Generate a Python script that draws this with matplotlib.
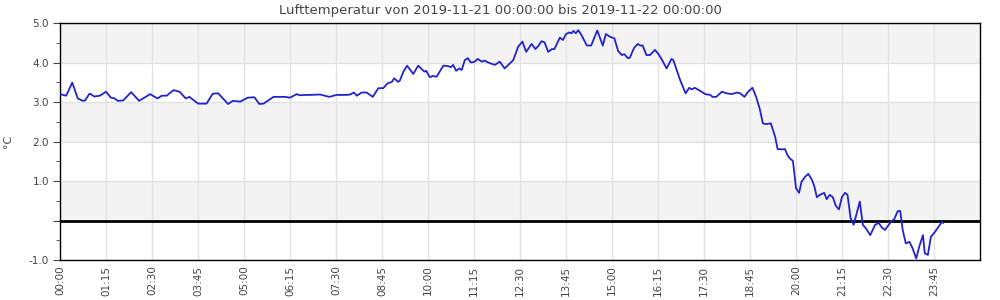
import datetime as dt
import matplotlib
matplotlib.use("Agg")
import matplotlib.pyplot as plt
import matplotlib.dates as mdates

# readings, 2019-11-21 (time of day -> air temperature in degC)
times = [
    "00:00", "00:10", "00:20", "00:29", "00:37", "00:41", "00:48", "00:50", "00:56", "01:05",
    "01:15", "01:23", "01:29", "01:34", "01:43", "01:56", "02:09", "02:27", "02:39", "02:46",
    "02:54", "03:05", "03:15", "03:25", "03:31", "03:45", "03:59", "04:09", "04:18", "04:34",
    "04:42", "04:54", "05:06", "05:17", "05:25", "05:32", "05:48", "06:07", "06:15", "06:26",
    "06:31", "06:40", "06:48", "07:04", "07:19", "07:31", "07:47", "07:53", "07:59", "08:04",
    "08:12", "08:20", "08:30", "08:39", "08:47", "08:54", "09:01", "09:05", "09:11", "09:14",
    "09:20", "09:26", "09:36", "09:44", "09:54", "09:57", "10:03", "10:08", "10:14", "10:25",
    "10:33", "10:37", "10:41", "10:46", "10:51", "10:55", "11:00", "11:05", "11:10", "11:16",
    "11:21", "11:28", "11:32", "11:38", "11:49", "11:57", "12:05", "12:19", "12:27", "12:34",
    "12:40", "12:49", "12:55", "13:00", "13:05", "13:10", "13:16", "13:22", "13:26", "13:35",
    "13:40", "13:45", "13:50", "13:54", "13:57", "14:01", "14:05", "14:10", "14:19", "14:26",
    "14:36", "14:45", "14:50", "14:57", "15:04", "15:10", "15:16", "15:20", "15:26", "15:29",
    "15:36", "15:42", "15:46", "15:50", "15:56", "16:02", "16:10", "16:16", "16:21", "16:29",
    "16:37", "16:40", "16:51", "17:00", "17:06", "17:10", "17:15", "17:24", "17:32", "17:40",
    "17:44", "17:50", "17:59", "18:07", "18:15", "18:24", "18:29", "18:36", "18:42", "18:49",
    "18:55", "18:59", "19:01", "19:06", "19:11", "19:19", "19:26", "19:30", "19:38", "19:42",
    "19:46", "19:50", "19:55", "20:00", "20:05", "20:09", "20:15", "20:20", "20:26", "20:30",
    "20:34", "20:39", "20:46", "20:50", "20:55", "21:00", "21:05", "21:10", "21:15", "21:20",
    "21:24", "21:29", "21:34", "21:44", "21:49", "21:54", "22:01", "22:09", "22:15", "22:19",
    "22:25", "22:35", "22:40", "22:46", "22:50", "22:54", "22:59", "23:05", "23:10", "23:16",
    "23:21", "23:27", "23:30", "23:35", "23:40", "23:47", "23:58", "24:00",
]
temps = [
    3.20, 3.16, 3.49, 3.09, 3.03, 3.04, 3.21, 3.20, 3.14, 3.16,
    3.26, 3.11, 3.09, 3.03, 3.04, 3.25, 3.03, 3.20, 3.09, 3.16,
    3.16, 3.30, 3.26, 3.09, 3.13, 2.96, 2.96, 3.21, 3.22, 2.95,
    3.03, 3.01, 3.11, 3.12, 2.95, 2.96, 3.13, 3.13, 3.11, 3.20,
    3.17, 3.18, 3.18, 3.19, 3.13, 3.18, 3.18, 3.19, 3.24, 3.16,
    3.24, 3.24, 3.13, 3.35, 3.35, 3.47, 3.51, 3.60, 3.51, 3.54,
    3.77, 3.92, 3.71, 3.92, 3.77, 3.79, 3.63, 3.66, 3.64, 3.92,
    3.91, 3.88, 3.94, 3.79, 3.85, 3.81, 4.06, 4.11, 4.00, 4.02,
    4.09, 4.02, 4.05, 4.00, 3.94, 4.02, 3.85, 4.06, 4.40, 4.53,
    4.27, 4.47, 4.34, 4.42, 4.54, 4.51, 4.27, 4.34, 4.34, 4.63,
    4.57, 4.72, 4.76, 4.74, 4.80, 4.74, 4.82, 4.70, 4.43, 4.43,
    4.81, 4.43, 4.72, 4.65, 4.61, 4.29, 4.19, 4.21, 4.11, 4.12,
    4.37, 4.47, 4.43, 4.43, 4.19, 4.19, 4.32, 4.21, 4.08, 3.85,
    4.09, 4.06, 3.56, 3.22, 3.36, 3.32, 3.36, 3.28, 3.20, 3.18,
    3.13, 3.13, 3.26, 3.22, 3.20, 3.24, 3.22, 3.13, 3.26, 3.36,
    3.13, 2.92, 2.82, 2.46, 2.44, 2.46, 2.12, 1.81, 1.80, 1.81,
    1.66, 1.57, 1.51, 0.82, 0.70, 0.98, 1.11, 1.18, 1.03, 0.86,
    0.59, 0.65, 0.70, 0.54, 0.65, 0.59, 0.37, 0.28, 0.60, 0.70,
    0.65, 0.06, -0.11, 0.48, -0.11, -0.20, -0.37, -0.11, -0.06, -0.16,
    -0.24, -0.03, 0.03, 0.24, 0.24, -0.24, -0.58, -0.54, -0.70, -0.96,
    -0.66, -0.37, -0.83, -0.87, -0.41, -0.28, -0.03, -0.06,
]
y_labels = ["-1.0", "", "1.0", "2.0", "3.0", "4.0", "5.0"]
y_values = [-1, 0, 1, 2, 3, 4, 5]
title = "Lufttemperatur von 2019-11-21 00:00:00 bis 2019-11-22 00:00:00"

start = dt.datetime(2019, 11, 21)


def to_dt(s):
    h, m = s.split(":")
    return start + dt.timedelta(hours=int(h), minutes=int(m))


x = [to_dt(t) for t in times]
end = start + dt.timedelta(hours=25)
xticks = [start + dt.timedelta(minutes=75 * i) for i in range(20)]

fig = plt.figure(figsize=(10, 3), dpi=100)
ax = fig.add_axes([0.06, 0.1333, 0.92, 0.79])

# alternating bands
for lo in [0, 2, 4]:
    ax.axhspan(lo, lo + 1, color="#f3f3f3", zorder=0, lw=0)

ax.set_xlim(start, end)
ax.set_ylim(-1, 5)
ax.set_xticks(xticks)
ax.xaxis.set_major_formatter(mdates.DateFormatter("%H:%M"))
ax.set_yticks(y_values)
ax.set_yticklabels(y_labels)
ax.set_yticks([-0.5, 0.5, 1.5, 2.5, 3.5, 4.5], minor=True)
ax.grid(True, which="major", color="#e2e2e2", lw=1, zorder=1)
ax.set_axisbelow(True)

ax.axhline(0, color="black", lw=2, zorder=3)
ax.plot(x, temps, color="#2323cc", lw=1.3, zorder=4)

ax.tick_params(axis="x", length=0, pad=4, labelsize=7.5, labelrotation=90, colors="#444444")
ax.tick_params(axis="y", which="major", length=5, labelsize=7.5, colors="#444444", pad=3)
ax.tick_params(axis="y", which="minor", length=3, color="#444444")
for lab in ax.get_xticklabels():
    lab.set_va("top")
for s in ax.spines.values():
    s.set_color("black")
    s.set_linewidth(1)

ax.set_ylabel("°C", fontsize=8, color="#444444")
ax.yaxis.set_label_coords(-0.051, 0.5)
fig.text(0.5, 0.965, title, ha="center", va="center", fontsize=9.5, color="#444444")

fig.savefig("out.png", dpi=100)
